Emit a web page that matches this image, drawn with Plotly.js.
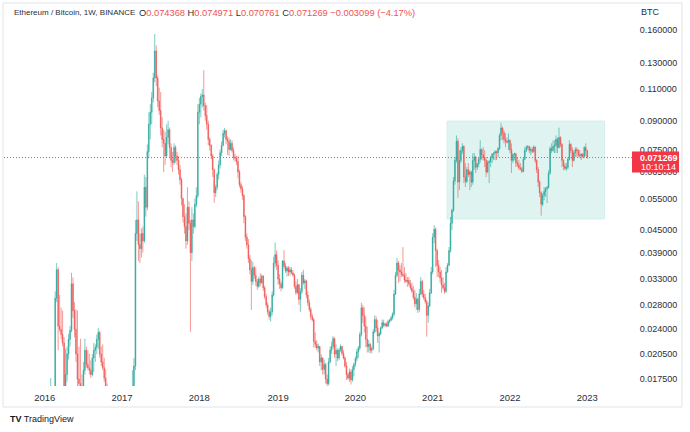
<!DOCTYPE html>
<html><head><meta charset="utf-8">
<script src="https://cdn.plot.ly/plotly-3.0.1.min.js"></script>
<style>html,body{margin:0;padding:0;background:#fff;}#chart{width:690px;height:432px;}</style>
</head><body><div id="chart"></div>
<script>
// Weekly candles [open, high, low, close], ETH/BTC, each group starts on the given Monday
const start2016 = '2016-01-04';
const bars2016 = [
[0.0023,0.0027,0.0022,0.0026],[0.0026,0.0032,0.0025,0.0030],[0.0030,0.0044,0.0029,0.0041],[0.0041,0.0068,0.0040,0.0064],
[0.0064,0.0176,0.0062,0.0140],[0.0140,0.0160,0.0110,0.0125],[0.0125,0.0158,0.0120,0.0150],[0.0150,0.0305,0.0148,0.0292],
[0.0292,0.0365,0.0285,0.0350],[0.0350,0.0355,0.0210,0.0245],[0.0245,0.0298,0.0236,0.0240],[0.0240,0.0275,0.0225,0.0232],
[0.0232,0.0270,0.0215,0.0220],[0.0220,0.0228,0.0150,0.0165],[0.0165,0.0212,0.0150,0.0180],[0.0180,0.0215,0.0172,0.0205],
[0.0205,0.0233,0.0198,0.0225],[0.0225,0.0245,0.0215,0.0238],[0.0238,0.0343,0.0235,0.0320],[0.0320,0.0333,0.0258,0.0270],
[0.0270,0.0285,0.0228,0.0240],[0.0240,0.0272,0.0195,0.0205],[0.0205,0.0270,0.0160,0.0175],[0.0175,0.0215,0.0155,0.0170],
[0.0170,0.0226,0.0160,0.0165],[0.0165,0.0180,0.0150,0.0160],[0.0160,0.0195,0.0158,0.0185],[0.0185,0.0226,0.0180,0.0210],
[0.0210,0.0215,0.0188,0.0192],[0.0192,0.0210,0.0185,0.0188],[0.0188,0.0205,0.0180,0.0185],[0.0185,0.0197,0.0176,0.0180],
[0.0180,0.0205,0.0178,0.0200],[0.0200,0.0220,0.0183,0.0210],[0.0210,0.0218,0.0195,0.0214],[0.0214,0.0232,0.0205,0.0225],
[0.0225,0.0242,0.0212,0.0235],[0.0235,0.0238,0.0200,0.0205],[0.0205,0.0215,0.0190,0.0195],[0.0195,0.0218,0.0185,0.0188],
[0.0188,0.0200,0.0172,0.0176],[0.0176,0.0186,0.0160,0.0165],[0.0165,0.0170,0.0140,0.0145],[0.0145,0.0152,0.0132,0.0138],
[0.0138,0.0145,0.0125,0.0130],[0.0130,0.0140,0.0122,0.0128],[0.0128,0.0136,0.0115,0.0120],[0.0120,0.0128,0.0110,0.0115],
[0.0115,0.0125,0.0108,0.0112],[0.0112,0.0120,0.0100,0.0105],[0.0105,0.0112,0.0095,0.0100],[0.0100,0.0110,0.0096,0.0104]
];
const start2017 = '2017-01-02';
const bars2017 = [
[0.0104,0.0112,0.0098,0.0102],[0.0102,0.0118,0.0100,0.0112],[0.0112,0.0120,0.0105,0.0110],[0.0110,0.0118,0.0105,0.0108],
[0.0108,0.0114,0.0100,0.0106],[0.0106,0.0124,0.0105,0.0120],[0.0120,0.0130,0.0115,0.0125],[0.0125,0.0185,0.0123,0.0165],
[0.0165,0.0200,0.0160,0.0190],[0.0190,0.0480,0.0185,0.0440],[0.0440,0.0575,0.0420,0.0480],[0.0480,0.0540,0.0370,0.0410],
[0.0410,0.0440,0.0365,0.0400],[0.0400,0.0455,0.0378,0.0440],[0.0440,0.0460,0.0390,0.0420],[0.0420,0.0640,0.0415,0.0590],
[0.0590,0.0630,0.0490,0.0520],[0.0520,0.0775,0.0510,0.0740],[0.0740,0.0950,0.0710,0.0880],[0.0880,0.1000,0.0800,0.0950],
[0.0950,0.1080,0.0880,0.1040],[0.1040,0.1220,0.1010,0.1180],[0.1180,0.1560,0.1150,0.1400],[0.1400,0.1450,0.1120,0.1180],
[0.1180,0.1200,0.0980,0.1020],[0.1020,0.1110,0.0935,0.0960],[0.0960,0.1080,0.0820,0.0860],[0.0860,0.0920,0.0760,0.0800],
[0.0800,0.0850,0.0650,0.0780],[0.0780,0.0840,0.0680,0.0720],[0.0720,0.0880,0.0715,0.0810],[0.0810,0.0900,0.0775,0.0850],
[0.0850,0.0862,0.0710,0.0760],[0.0760,0.0780,0.0670,0.0700],[0.0700,0.0738,0.0650,0.0690],[0.0690,0.0780,0.0680,0.0760],
[0.0760,0.0770,0.0690,0.0720],[0.0720,0.0738,0.0680,0.0700],[0.0700,0.0720,0.0640,0.0660],[0.0660,0.0680,0.0600,0.0620],
[0.0620,0.0627,0.0526,0.0550],[0.0550,0.0551,0.0472,0.0490],[0.0490,0.0530,0.0440,0.0460],[0.0460,0.0500,0.0400,0.0420],
[0.0420,0.0590,0.0410,0.0520],[0.0520,0.0540,0.0450,0.0470],[0.0470,0.0480,0.0236,0.0390],[0.0390,0.0520,0.0370,0.0480],
[0.0480,0.0500,0.0440,0.0460],[0.0460,0.0550,0.0455,0.0530],[0.0530,0.0590,0.0520,0.0560],[0.0560,0.1000,0.0550,0.0950]
];
const start2018 = '2018-01-01';
const bars2018 = [
[0.0950,0.1040,0.0880,0.1000],[0.1000,0.1070,0.0920,0.1050],[0.1050,0.1100,0.0980,0.1060],[0.1060,0.1240,0.0960,0.0990],
[0.0990,0.1010,0.0900,0.0930],[0.0930,0.0995,0.0850,0.0880],[0.0880,0.0900,0.0770,0.0800],[0.0800,0.0810,0.0745,0.0770],
[0.0770,0.0775,0.0705,0.0720],[0.0720,0.0730,0.0630,0.0660],[0.0660,0.0665,0.0535,0.0570],[0.0570,0.0600,0.0555,0.0590],
[0.0590,0.0650,0.0580,0.0640],[0.0640,0.0700,0.0620,0.0680],[0.0680,0.0750,0.0665,0.0735],[0.0735,0.0790,0.0720,0.0770],
[0.0770,0.0850,0.0765,0.0830],[0.0830,0.0860,0.0810,0.0845],[0.0845,0.0850,0.0775,0.0800],[0.0800,0.0815,0.0725,0.0790],
[0.0790,0.0810,0.0720,0.0750],[0.0750,0.0800,0.0745,0.0780],[0.0780,0.0795,0.0735,0.0745],[0.0745,0.0760,0.0700,0.0715],
[0.0715,0.0730,0.0695,0.0710],[0.0710,0.0720,0.0680,0.0695],[0.0695,0.0720,0.0625,0.0650],[0.0650,0.0660,0.0590,0.0600],
[0.0600,0.0610,0.0570,0.0585],[0.0585,0.0595,0.0545,0.0560],[0.0560,0.0565,0.0470,0.0490],[0.0490,0.0495,0.0420,0.0430],
[0.0430,0.0440,0.0400,0.0410],[0.0410,0.0425,0.0365,0.0375],[0.0375,0.0385,0.0340,0.0350],[0.0350,0.0372,0.0271,0.0325],
[0.0325,0.0368,0.0318,0.0355],[0.0355,0.0358,0.0330,0.0338],[0.0338,0.0355,0.0316,0.0325],[0.0325,0.0330,0.0308,0.0315],
[0.0315,0.0335,0.0312,0.0330],[0.0330,0.0342,0.0315,0.0322],[0.0322,0.0340,0.0320,0.0336],[0.0336,0.0338,0.0306,0.0312],
[0.0312,0.0316,0.0290,0.0295],[0.0295,0.0300,0.0275,0.0280],[0.0280,0.0284,0.0263,0.0268],[0.0268,0.0272,0.0255,0.0260],
[0.0260,0.0275,0.0252,0.0268],[0.0268,0.0305,0.0262,0.0298],[0.0298,0.0380,0.0295,0.0365],[0.0365,0.0416,0.0355,0.0385]
];
const start2019 = '2018-12-31';
const bars2019 = [
[0.0385,0.0395,0.0350,0.0360],[0.0360,0.0372,0.0318,0.0330],[0.0330,0.0340,0.0310,0.0320],[0.0320,0.0325,0.0305,0.0312],
[0.0312,0.0372,0.0310,0.0370],[0.0370,0.0396,0.0352,0.0358],[0.0358,0.0365,0.0343,0.0347],[0.0347,0.0358,0.0335,0.0354],
[0.0354,0.0358,0.0336,0.0345],[0.0345,0.0356,0.0338,0.0350],[0.0350,0.0356,0.0340,0.0343],[0.0343,0.0349,0.0335,0.0338],
[0.0338,0.0342,0.0310,0.0315],[0.0315,0.0325,0.0298,0.0303],[0.0303,0.0330,0.0300,0.0318],[0.0318,0.0320,0.0280,0.0290],
[0.0290,0.0312,0.0268,0.0305],[0.0305,0.0345,0.0300,0.0338],[0.0338,0.0350,0.0318,0.0322],[0.0322,0.0330,0.0310,0.0326],
[0.0326,0.0328,0.0292,0.0298],[0.0298,0.0305,0.0278,0.0284],[0.0284,0.0290,0.0268,0.0272],[0.0272,0.0276,0.0255,0.0260],
[0.0260,0.0265,0.0252,0.0255],[0.0255,0.0258,0.0214,0.0222],[0.0222,0.0235,0.0213,0.0218],[0.0218,0.0224,0.0210,0.0213],
[0.0213,0.0219,0.0207,0.0215],[0.0215,0.0216,0.0190,0.0195],[0.0195,0.0205,0.0185,0.0200],[0.0200,0.0201,0.0180,0.0186],
[0.0186,0.0198,0.0180,0.0192],[0.0192,0.0194,0.0170,0.0175],[0.0175,0.0180,0.0165,0.0170],[0.0170,0.0200,0.0168,0.0195],
[0.0195,0.0215,0.0193,0.0210],[0.0210,0.0222,0.0205,0.0215],[0.0215,0.0230,0.0212,0.0226],[0.0226,0.0228,0.0200,0.0205],
[0.0205,0.0218,0.0190,0.0210],[0.0210,0.0212,0.0196,0.0200],[0.0200,0.0213,0.0197,0.0210],[0.0210,0.0218,0.0208,0.0215],
[0.0215,0.0216,0.0203,0.0206],[0.0206,0.0210,0.0198,0.0200],[0.0200,0.0202,0.0188,0.0190],[0.0190,0.0195,0.0174,0.0180],
[0.0180,0.0182,0.0174,0.0176],[0.0176,0.0187,0.0172,0.0183],[0.0183,0.0186,0.0169,0.0174],[0.0174,0.0190,0.0172,0.0186]
];
const start2020 = '2019-12-30';
const bars2020 = [
[0.0186,0.0194,0.0178,0.0192],[0.0192,0.0202,0.0189,0.0199],[0.0199,0.0212,0.0196,0.0208],[0.0208,0.0216,0.0200,0.0213],
[0.0213,0.0236,0.0210,0.0232],[0.0232,0.0284,0.0229,0.0275],[0.0275,0.0280,0.0250,0.0262],[0.0262,0.0276,0.0235,0.0245],
[0.0245,0.0260,0.0214,0.0225],[0.0225,0.0244,0.0207,0.0215],[0.0215,0.0224,0.0207,0.0218],[0.0218,0.0220,0.0206,0.0210],
[0.0210,0.0215,0.0206,0.0212],[0.0212,0.0240,0.0210,0.0236],[0.0236,0.0262,0.0234,0.0255],[0.0255,0.0260,0.0236,0.0242],
[0.0242,0.0255,0.0220,0.0230],[0.0230,0.0236,0.0207,0.0233],[0.0233,0.0244,0.0231,0.0242],[0.0242,0.0255,0.0240,0.0250],
[0.0250,0.0255,0.0243,0.0246],[0.0246,0.0250,0.0243,0.0248],[0.0248,0.0251,0.0243,0.0245],[0.0245,0.0255,0.0243,0.0252],
[0.0252,0.0256,0.0249,0.0254],[0.0254,0.0261,0.0252,0.0258],[0.0258,0.0267,0.0255,0.0264],[0.0264,0.0308,0.0260,0.0300],
[0.0300,0.0345,0.0298,0.0338],[0.0338,0.0377,0.0334,0.0365],[0.0365,0.0370,0.0322,0.0350],[0.0350,0.0360,0.0325,0.0345],
[0.0345,0.0365,0.0334,0.0340],[0.0340,0.0404,0.0334,0.0338],[0.0338,0.0356,0.0322,0.0328],[0.0328,0.0343,0.0322,0.0325],
[0.0325,0.0334,0.0314,0.0327],[0.0327,0.0334,0.0315,0.0320],[0.0320,0.0328,0.0308,0.0312],[0.0312,0.0322,0.0302,0.0306],
[0.0306,0.0316,0.0289,0.0294],[0.0294,0.0308,0.0276,0.0282],[0.0282,0.0302,0.0271,0.0290],[0.0290,0.0294,0.0266,0.0272],
[0.0272,0.0310,0.0268,0.0300],[0.0300,0.0334,0.0298,0.0325],[0.0325,0.0328,0.0294,0.0300],[0.0300,0.0308,0.0289,0.0293],
[0.0293,0.0300,0.0282,0.0286],[0.0286,0.0289,0.0229,0.0262],[0.0262,0.0284,0.0250,0.0278],[0.0278,0.0310,0.0276,0.0302],
[0.0302,0.0356,0.0300,0.0345]
];
const start2021 = '2021-01-04';
const bars2021 = [
[0.0345,0.0441,0.0340,0.0430],[0.0430,0.0464,0.0414,0.0452],[0.0452,0.0458,0.0356,0.0395],[0.0395,0.0400,0.0334,0.0360],
[0.0360,0.0372,0.0334,0.0345],[0.0345,0.0356,0.0322,0.0332],[0.0332,0.0349,0.0302,0.0318],[0.0318,0.0334,0.0308,0.0312],
[0.0312,0.0322,0.0300,0.0305],[0.0305,0.0356,0.0302,0.0345],[0.0345,0.0365,0.0343,0.0360],[0.0360,0.0404,0.0358,0.0395],
[0.0395,0.0489,0.0390,0.0470],[0.0470,0.0515,0.0450,0.0510],[0.0510,0.0630,0.0505,0.0615],[0.0615,0.0715,0.0600,0.0700],
[0.0700,0.0820,0.0690,0.0790],[0.0790,0.0805,0.0552,0.0610],[0.0610,0.0747,0.0580,0.0700],[0.0700,0.0761,0.0688,0.0745],
[0.0745,0.0780,0.0730,0.0765],[0.0765,0.0770,0.0606,0.0630],[0.0630,0.0688,0.0591,0.0612],[0.0612,0.0671,0.0606,0.0660],
[0.0660,0.0688,0.0630,0.0640],[0.0640,0.0658,0.0580,0.0650],[0.0650,0.0655,0.0591,0.0610],[0.0610,0.0733,0.0600,0.0700],
[0.0700,0.0733,0.0660,0.0715],[0.0715,0.0720,0.0646,0.0670],[0.0670,0.0688,0.0658,0.0685],[0.0685,0.0715,0.0670,0.0705],
[0.0705,0.0795,0.0690,0.0750],[0.0750,0.0755,0.0701,0.0725],[0.0725,0.0761,0.0700,0.0712],[0.0712,0.0747,0.0671,0.0700],
[0.0700,0.0715,0.0630,0.0650],[0.0650,0.0701,0.0645,0.0690],[0.0690,0.0700,0.0606,0.0695],[0.0695,0.0720,0.0671,0.0712],
[0.0712,0.0733,0.0688,0.0728],[0.0728,0.0738,0.0701,0.0732],[0.0732,0.0747,0.0701,0.0740],[0.0740,0.0745,0.0701,0.0735],
[0.0735,0.0761,0.0715,0.0755],[0.0755,0.0831,0.0747,0.0820],[0.0820,0.0889,0.0795,0.0860],[0.0860,0.0867,0.0795,0.0835],
[0.0835,0.0847,0.0780,0.0800],[0.0800,0.0831,0.0761,0.0790],[0.0790,0.0810,0.0780,0.0785],[0.0785,0.0831,0.0747,0.0795]
];
const start2022 = '2022-01-03';
const bars2022 = [
[0.0795,0.0800,0.0733,0.0750],[0.0750,0.0780,0.0646,0.0700],[0.0700,0.0733,0.0688,0.0725],[0.0725,0.0735,0.0700,0.0730],
[0.0730,0.0733,0.0671,0.0690],[0.0690,0.0715,0.0671,0.0680],[0.0680,0.0701,0.0658,0.0668],[0.0668,0.0688,0.0658,0.0662],
[0.0662,0.0671,0.0646,0.0652],[0.0652,0.0715,0.0650,0.0705],[0.0705,0.0761,0.0701,0.0745],[0.0745,0.0770,0.0738,0.0760],
[0.0760,0.0770,0.0750,0.0765],[0.0765,0.0768,0.0733,0.0745],[0.0745,0.0761,0.0724,0.0750],[0.0750,0.0761,0.0733,0.0740],
[0.0740,0.0770,0.0735,0.0762],[0.0762,0.0765,0.0688,0.0700],[0.0700,0.0705,0.0646,0.0660],[0.0660,0.0671,0.0591,0.0610],
[0.0610,0.0617,0.0555,0.0570],[0.0570,0.0575,0.0493,0.0530],[0.0530,0.0569,0.0523,0.0560],[0.0560,0.0591,0.0544,0.0575],
[0.0575,0.0591,0.0555,0.0585],[0.0585,0.0595,0.0534,0.0590],[0.0590,0.0658,0.0585,0.0645],[0.0645,0.0765,0.0640,0.0755],
[0.0755,0.0780,0.0733,0.0745],[0.0745,0.0795,0.0740,0.0765],[0.0765,0.0795,0.0733,0.0770],[0.0770,0.0820,0.0733,0.0800],
[0.0800,0.0810,0.0733,0.0760],[0.0760,0.0862,0.0755,0.0810],[0.0810,0.0815,0.0761,0.0775],[0.0775,0.0780,0.0671,0.0700],
[0.0700,0.0705,0.0658,0.0675],[0.0675,0.0688,0.0658,0.0665],[0.0665,0.0688,0.0655,0.0670],[0.0670,0.0715,0.0662,0.0705],
[0.0705,0.0795,0.0700,0.0775],[0.0775,0.0780,0.0733,0.0745],[0.0745,0.0761,0.0671,0.0700],[0.0700,0.0747,0.0695,0.0735],
[0.0735,0.0761,0.0715,0.0750],[0.0750,0.0761,0.0715,0.0745],[0.0745,0.0752,0.0715,0.0725],[0.0725,0.0747,0.0710,0.0720],
[0.0720,0.0733,0.0701,0.0728],[0.0728,0.0733,0.0710,0.0718],[0.0718,0.0765,0.0710,0.0760],[0.0760,0.0780,0.0720,0.074368]
];
const start2023 = '2023-01-02';
const bars2023 = [
[0.074368,0.074971,0.070761,0.071269]
];

const yearTickDates = ['2016-01-04','2017-01-02','2018-01-01','2019-01-07','2020-01-06','2021-01-04','2022-01-03','2023-01-02'];
const yearTickLabels = ['2016','2017','2018','2019','2020','2021','2022','2023'];
const priceTicks = [0.0175,0.0205,0.024,0.028,0.033,0.039,0.045,0.055,0.065,0.075,0.09,0.11,0.13,0.16];
const zoneDates = ['2021-03-13','2023-03-25'];
const zonePrices = [0.0483,0.0898];
const symbolTitle = 'Ethereum / Bitcoin, 1W, BINANCE';
const countdown = '10:10:14';

// ---- build
const groups = [[start2016,bars2016],[start2017,bars2017],[start2018,bars2018],[start2019,bars2019],
  [start2020,bars2020],[start2021,bars2021],[start2022,bars2022],[start2023,bars2023]];
const X=[],O=[],H=[],L=[],C=[];
groups.forEach(([s,bars])=>{
  const p=s.split('-').map(Number); const t0=Date.UTC(p[0],p[1]-1,p[2]);
  bars.forEach((b,k)=>{
    X.push(new Date(t0+k*7*86400000).toISOString().slice(0,10));
    O.push(b[0]);H.push(b[1]);L.push(b[2]);C.push(b[3]);
  });
});
const n=C.length;
const last={o:O[n-1],h:H[n-1],l:L[n-1],c:C[n-1]};
const prev=C[n-2];
const chg=last.c-prev, pct=chg/prev*100;
const f6=v=>v.toFixed(6);
const RED='#ef5350', GREEN='#26a69a', TXT='#2a2e39';
const sp='\u00a0';
const rs=t=>'<span style="color:'+RED+'">'+t+'</span>';
const valText = 'O'+rs(f6(last.o))+sp+'H'+rs(f6(last.h))+sp+'L'+rs(f6(last.l))+sp+'C'+rs(f6(last.c))+sp+
  rs((chg<0?'\u2212':'+')+Math.abs(chg).toFixed(6)+sp+'('+(pct<0?'\u2212':'+')+Math.abs(pct).toFixed(2)+'%)');

const W=690,Hh=432, mL=4, mR=58, mT=4, mB=46;
const pw=W-mL-mR, ph=Hh-mT-mB;
const px=x=>(x-mL)/pw, py=y=>(Hh-mB-y)/ph;
const yr=[Math.log10(0.01674),Math.log10(0.1887)];
const priceToPix=v=>mT+ph*(yr[1]-Math.log10(v))/(yr[1]-yr[0]);
const lastPix=priceToPix(last.c);

const FONT='Liberation Sans, Arial, sans-serif';
const trace={type:'candlestick',x:X,open:O,high:H,low:L,close:C,
  increasing:{line:{color:GREEN,width:0.6},fillcolor:GREEN},
  decreasing:{line:{color:RED,width:0.6},fillcolor:RED},
  whiskerwidth:0,hoverinfo:'skip',showlegend:false};

const layout={
  width:W,height:Hh,margin:{l:mL,r:mR,t:mT,b:mB,pad:0},
  paper_bgcolor:'#ffffff',plot_bgcolor:'#ffffff',
  font:{family:FONT,size:9,color:TXT},
  showlegend:false,
  xaxis:{type:'date',range:['2015-06-26','2023-07-31 21:00'],rangeslider:{visible:false},
    tickmode:'array',tickvals:yearTickDates,ticktext:yearTickLabels,showgrid:false,zeroline:false,showline:false,
    ticks:'outside',ticklen:3,tickcolor:'rgba(0,0,0,0)',tickfont:{family:FONT,size:9.5,color:TXT},fixedrange:true},
  yaxis:{type:'log',side:'right',range:yr,
    tickmode:'array',tickvals:priceTicks,ticktext:priceTicks.map(f6),showgrid:false,zeroline:false,showline:false,
    ticks:'outside',ticklen:5,tickcolor:'rgba(0,0,0,0)',tickfont:{family:FONT,size:9,color:TXT},fixedrange:true},
  shapes:[
    {type:'rect',xref:'x',yref:'y',x0:zoneDates[0],x1:zoneDates[1],y0:zonePrices[0],y1:zonePrices[1],
      fillcolor:'#dff4f1',line:{color:'#d2efea',width:1},layer:'below'},
    {type:'line',xref:'paper',yref:'paper',x0:0,x1:1,y0:py(lastPix),y1:py(lastPix),layer:'above',
      line:{color:'rgb(239,83,80)',width:1,dash:'1px,2px'}},
    {type:'rect',xref:'paper',yref:'paper',x0:1,x1:px(679),y0:py(lastPix+15),y1:py(lastPix-6),
      fillcolor:'#f23645',line:{width:0}},
    {type:'rect',xref:'paper',yref:'paper',x0:px(3),x1:px(682),y0:py(407),y1:py(3),
      line:{color:'#e0e3eb',width:1},fillcolor:'rgba(0,0,0,0)'}
  ],
  annotations:[
    {xref:'paper',yref:'paper',x:px(12),y:py(13),xanchor:'left',yanchor:'middle',showarrow:false,
      text:symbolTitle,font:{family:FONT,size:8,color:TXT}},
    {xref:'paper',yref:'paper',x:px(137),y:py(13),xanchor:'left',yanchor:'middle',showarrow:false,
      text:valText,font:{family:FONT,size:9.3,color:TXT}},
    {xref:'paper',yref:'paper',x:px(639),y:py(12),xanchor:'left',yanchor:'middle',showarrow:false,
      text:'BTC',font:{family:FONT,size:9,color:TXT}},
    {xref:'paper',yref:'paper',x:px(638),y:py(lastPix),xanchor:'left',yanchor:'middle',showarrow:false,
      text:'<b>'+f6(last.c)+'</b>',font:{family:FONT,size:9,color:'#ffffff'}},
    {xref:'paper',yref:'paper',x:px(639),y:py(lastPix+9.5),xanchor:'left',yanchor:'middle',showarrow:false,
      text:countdown,font:{family:FONT,size:9,color:'#ffffff'}},
    {xref:'paper',yref:'paper',x:px(8),y:py(419),xanchor:'left',yanchor:'middle',showarrow:false,
      text:'<b>TV</b> TradingView',font:{family:FONT,size:9,color:'#131722'}}
  ]
};
Plotly.newPlot('chart',[trace],layout,{staticPlot:true,displayModeBar:false});
</script></body></html>
